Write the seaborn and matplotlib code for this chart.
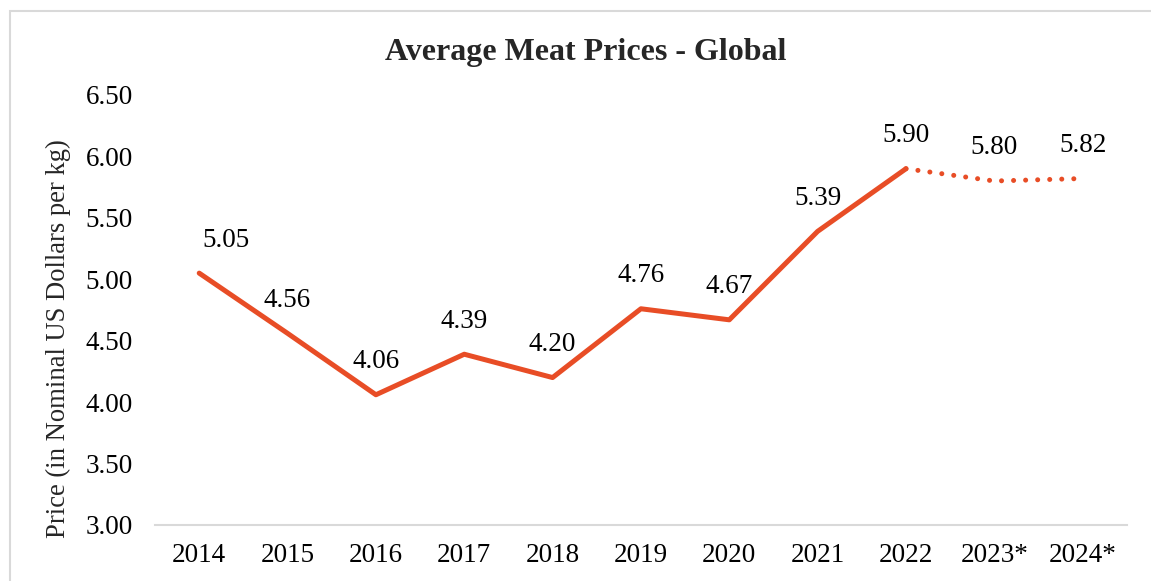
import pandas as pd
import matplotlib.pyplot as plt
from matplotlib.patches import Rectangle
import seaborn as sns

# Datos del gráfico
years = ["2014", "2015", "2016", "2017", "2018", "2019", "2020", "2021", "2022", "2023*", "2024*"]
prices = [5.05, 4.56, 4.06, 4.39, 4.20, 4.76, 4.67, 5.39, 5.90, 5.80, 5.82]
n_actual = 9  # 2014-2022 reales, el resto es proyección

line_color = "#E84D26"

sns.set_style("white")
plt.rcParams["font.family"] = ["Liberation Serif", "DejaVu Serif"]

df = pd.DataFrame({"year": years, "price": prices})
df_actual = df.iloc[:n_actual]
df_proj = df.iloc[n_actual - 1:]

fig = plt.figure(figsize=(11.51, 5.81), dpi=100)
ax = fig.add_axes([0.1347, 0.0964, 0.979 - 0.1347, 0.8365 - 0.0964])

sns.lineplot(data=df_actual, x="year", y="price", ax=ax, color=line_color,
             linewidth=3.6, sort=False)
sns.lineplot(data=df_proj, x="year", y="price", ax=ax, color=line_color,
             linewidth=3.6, sort=False, linestyle=(0, (0.01, 2.4)),
             dash_capstyle="round")

# Etiquetas de datos
for i, (yr, p) in enumerate(zip(years, prices)):
    dx = 27 if i == 0 else 0
    ax.annotate(f"{p:.2f}", xy=(i, p), xytext=(dx, 33), textcoords="offset pixels",
                ha="center", va="center", fontsize=19.5, color="black")

ax.set_ylim(3.0, 6.5)
ax.set_yticks([3.0 + 0.5 * k for k in range(8)])
ax.set_yticklabels([f"{3.0 + 0.5 * k:.2f}" for k in range(8)])
ax.set_xlim(-0.5, len(years) - 0.5)
ax.tick_params(axis="both", length=0, labelsize=19.5, colors="black")
ax.tick_params(axis="x", pad=13)
ax.tick_params(axis="y", pad=16)

for side in ["top", "right", "left"]:
    ax.spines[side].set_visible(False)
ax.spines["bottom"].set_color("#D9D9D9")
ax.spines["bottom"].set_linewidth(1.5)

ax.set_xlabel("")
ax.set_ylabel("Price (in Nominal US Dollars per kg)", fontsize=19.2)
ax.yaxis.set_label_coords(-0.086, 0.433)
fig.text(0.509, 0.91, "Average Meat Prices - Global", ha="center", va="center",
         fontsize=23, fontweight="bold")

# Borde del gráfico
fig.patches.append(Rectangle((10 / 1151, -0.1), 1.2, 1.1 - 11 / 581,
                             transform=fig.transFigure, fill=False,
                             edgecolor="#D9D9D9", linewidth=1.5))

fig.savefig("out.png", dpi=100)
